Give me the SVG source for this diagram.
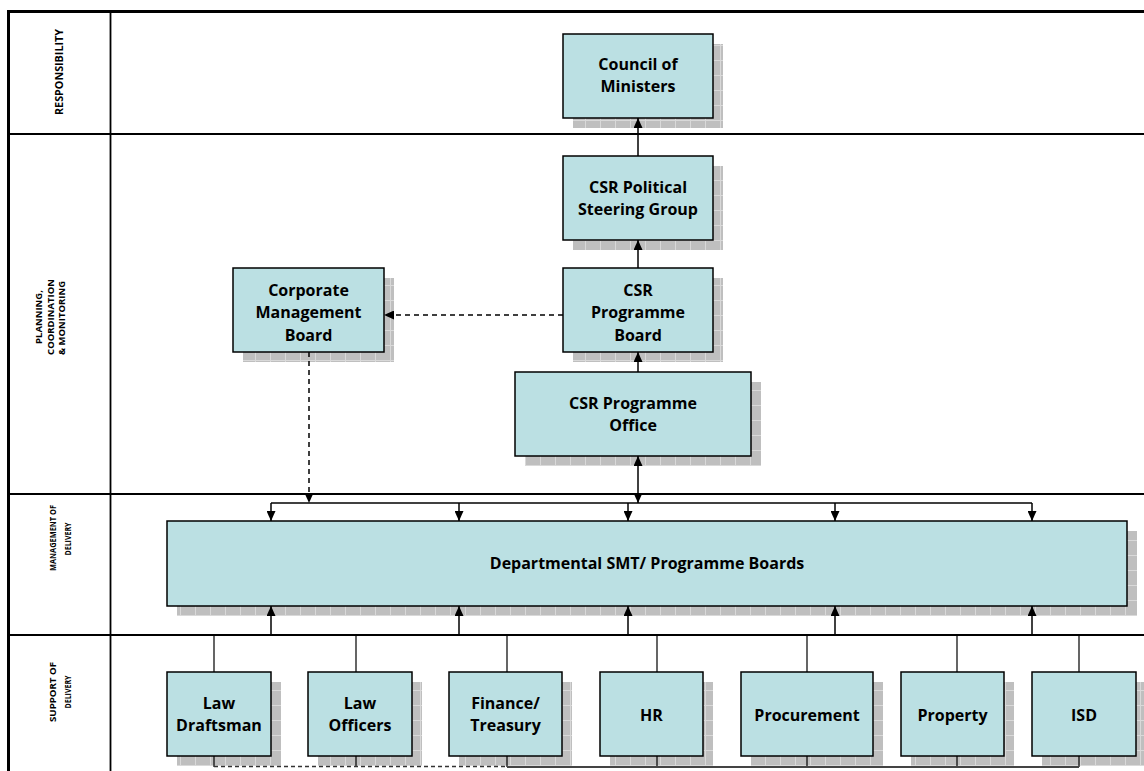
<svg xmlns="http://www.w3.org/2000/svg" width="1144" height="771" viewBox="0 0 1144 771">
<style>
.box{fill:#bbe0e3;stroke:#000;stroke-width:1.5}
.sh{fill:url(#grid)}
.t{font-family:"Open Sans","Liberation Sans",sans-serif;font-weight:700;font-size:16px;fill:#000;text-anchor:middle}
.lab{font-family:"Open Sans","Liberation Sans",sans-serif;font-weight:700;font-size:9px;fill:#000;text-anchor:middle}
.frame{stroke:#000;fill:none}
.c{stroke:#000;stroke-width:1.5;fill:none}
.cs{stroke:#000;stroke-width:1.2;fill:none}
.d{stroke:#000;stroke-width:1.5;fill:none;stroke-dasharray:5,4}
</style>
<defs>
<pattern id="grid" patternUnits="userSpaceOnUse" width="15" height="15">
<rect width="15" height="15" fill="#bfbfbf"/>
<path d="M0,0.5H15M0.5,0V15" stroke="#d9d9d9" stroke-width="1"/>
</pattern>
<marker id="ah" viewBox="0 0 10 9" refX="10" refY="4.5" markerWidth="10" markerHeight="9" orient="auto-start-reverse" markerUnits="userSpaceOnUse">
<path d="M0,0L10,4.5L0,9z" fill="#000"/>
</marker>
</defs>
<rect width="1144" height="771" fill="#fff"/>

<g id="frame">
<path class="frame" stroke-width="3" d="M8.5,771V11.5H1144"/>
<path class="frame" stroke-width="1.8" d="M110.5,11V771M8,134H1144M8,494H1144M8,635H1144"/>
<text class="lab" style="font-size:10px" transform="translate(62.5,72) rotate(-90)" textLength="86" lengthAdjust="spacingAndGlyphs">RESPONSIBILITY</text>
<text class="lab" style="font-size:9.5px" transform="translate(42,317) rotate(-90)">PLANNING,</text>
<text class="lab" style="font-size:9.5px" transform="translate(53.5,317) rotate(-90)">COORDINATION</text>
<text class="lab" style="font-size:9.5px" transform="translate(65,318) rotate(-90)">&amp; MONITORING</text>
<text class="lab" transform="translate(56,538) rotate(-90)" textLength="66" lengthAdjust="spacingAndGlyphs">MANAGEMENT OF</text>
<text class="lab" transform="translate(70.5,539) rotate(-90)" textLength="33" lengthAdjust="spacingAndGlyphs">DELIVERY</text>
<text class="lab" transform="translate(55.5,692) rotate(-90)" textLength="60" lengthAdjust="spacingAndGlyphs">SUPPORT OF</text>
<text class="lab" transform="translate(70.5,692) rotate(-90)" textLength="33" lengthAdjust="spacingAndGlyphs">DELIVERY</text>
</g>

<g id="council">
<rect class="sh" x="573" y="44" width="150" height="84"/>
<rect class="box" x="563" y="34" width="150" height="84"/>
<text class="t" x="638" y="69.5">Council of</text>
<text class="t" x="638" y="91.5">Ministers</text>
</g>
<g id="political">
<rect class="sh" x="573" y="166" width="150" height="84"/>
<rect class="box" x="563" y="156" width="150" height="84"/>
<text class="t" x="638" y="192.5">CSR Political</text>
<text class="t" x="638" y="214.5">Steering Group</text>
</g>
<g id="progboard">
<rect class="sh" x="573" y="278" width="150" height="84"/>
<rect class="box" x="563" y="268" width="150" height="84"/>
<text class="t" x="638" y="295.5">CSR</text>
<text class="t" x="638" y="318">Programme</text>
<text class="t" x="638" y="340.5">Board</text>
</g>
<g id="corporate">
<rect class="sh" x="243" y="278" width="151" height="84"/>
<rect class="box" x="233" y="268" width="151" height="84"/>
<text class="t" x="308.5" y="295.5">Corporate</text>
<text class="t" x="308.5" y="318">Management</text>
<text class="t" x="308.5" y="340.5">Board</text>
</g>
<g id="office">
<rect class="sh" x="525" y="382" width="236" height="84"/>
<rect class="box" x="515" y="372" width="236" height="84"/>
<text class="t" x="633" y="409">CSR Programme</text>
<text class="t" x="633" y="431">Office</text>
</g>
<g id="departmental">
<rect class="sh" x="177" y="531" width="960" height="85"/>
<rect class="box" x="167" y="521" width="960" height="85"/>
<text class="t" x="647" y="569">Departmental SMT/ Programme Boards</text>
</g>

<g id="lawdraftsman">
<rect class="sh" x="177" y="682" width="104" height="84"/>
<rect class="box" x="167" y="672" width="104" height="84"/>
<text class="t" x="219" y="708.5">Law</text>
<text class="t" x="219" y="731">Draftsman</text>
</g>
<g id="lawofficers">
<rect class="sh" x="318" y="682" width="104" height="84"/>
<rect class="box" x="308" y="672" width="104" height="84"/>
<text class="t" x="360" y="708.5">Law</text>
<text class="t" x="360" y="731">Officers</text>
</g>
<g id="finance">
<rect class="sh" x="459" y="682" width="113" height="84"/>
<rect class="box" x="449" y="672" width="113" height="84"/>
<text class="t" x="505.5" y="708.5">Finance/</text>
<text class="t" x="505.5" y="731">Treasury</text>
</g>
<g id="hr">
<rect class="sh" x="610" y="682" width="103" height="84"/>
<rect class="box" x="600" y="672" width="103" height="84"/>
<text class="t" x="651.5" y="721">HR</text>
</g>
<g id="procurement">
<rect class="sh" x="751" y="682" width="132" height="84"/>
<rect class="box" x="741" y="672" width="132" height="84"/>
<text class="t" x="807" y="721">Procurement</text>
</g>
<g id="property">
<rect class="sh" x="911" y="682" width="103" height="84"/>
<rect class="box" x="901" y="672" width="103" height="84"/>
<text class="t" x="952.5" y="721">Property</text>
</g>
<g id="isd">
<rect class="sh" x="1042" y="682" width="104" height="84"/>
<rect class="box" x="1032" y="672" width="104" height="84"/>
<text class="t" x="1084" y="721">ISD</text>
</g>

<g id="connectors">
<path class="c" d="M638,156V118" marker-end="url(#ah)"/>
<path class="c" d="M638,268V240" marker-end="url(#ah)"/>
<path class="c" d="M638,372V352" marker-end="url(#ah)"/>
<path class="c" d="M638,456V503" marker-start="url(#ah)" marker-end="url(#ah)"/>
<path class="d" d="M563,315H384" marker-end="url(#ah)"/>
<path class="d" d="M309,352V503" marker-end="url(#ah)"/>
<path class="c" d="M271,503H1032"/>
<path class="c" d="M271,503V521" marker-end="url(#ah)"/>
<path class="c" d="M459,503V521" marker-end="url(#ah)"/>
<path class="c" d="M628,503V521" marker-end="url(#ah)"/>
<path class="c" d="M835,503V521" marker-end="url(#ah)"/>
<path class="c" d="M1032,503V521" marker-end="url(#ah)"/>
<path class="c" d="M271,635V606" marker-end="url(#ah)"/>
<path class="c" d="M459,635V606" marker-end="url(#ah)"/>
<path class="c" d="M628,635V606" marker-end="url(#ah)"/>
<path class="c" d="M835,635V606" marker-end="url(#ah)"/>
<path class="c" d="M1032,635V606" marker-end="url(#ah)"/>
<path class="cs" d="M214,635V672M356,635V672M507,635V672M657,635V672M807,635V672M957,635V672M1079,635V672"/>
<path class="cs" d="M214,756V767M356,756V767M507,756V767M657,756V767M807,756V767M957,756V767M1079,756V767"/>
<path stroke="#333" stroke-width="1.5" stroke-dasharray="4,3" fill="none" d="M214,766.5H507"/>
<path stroke="#444" stroke-width="2" fill="none" d="M507,767H1079"/>
</g>
</svg>
